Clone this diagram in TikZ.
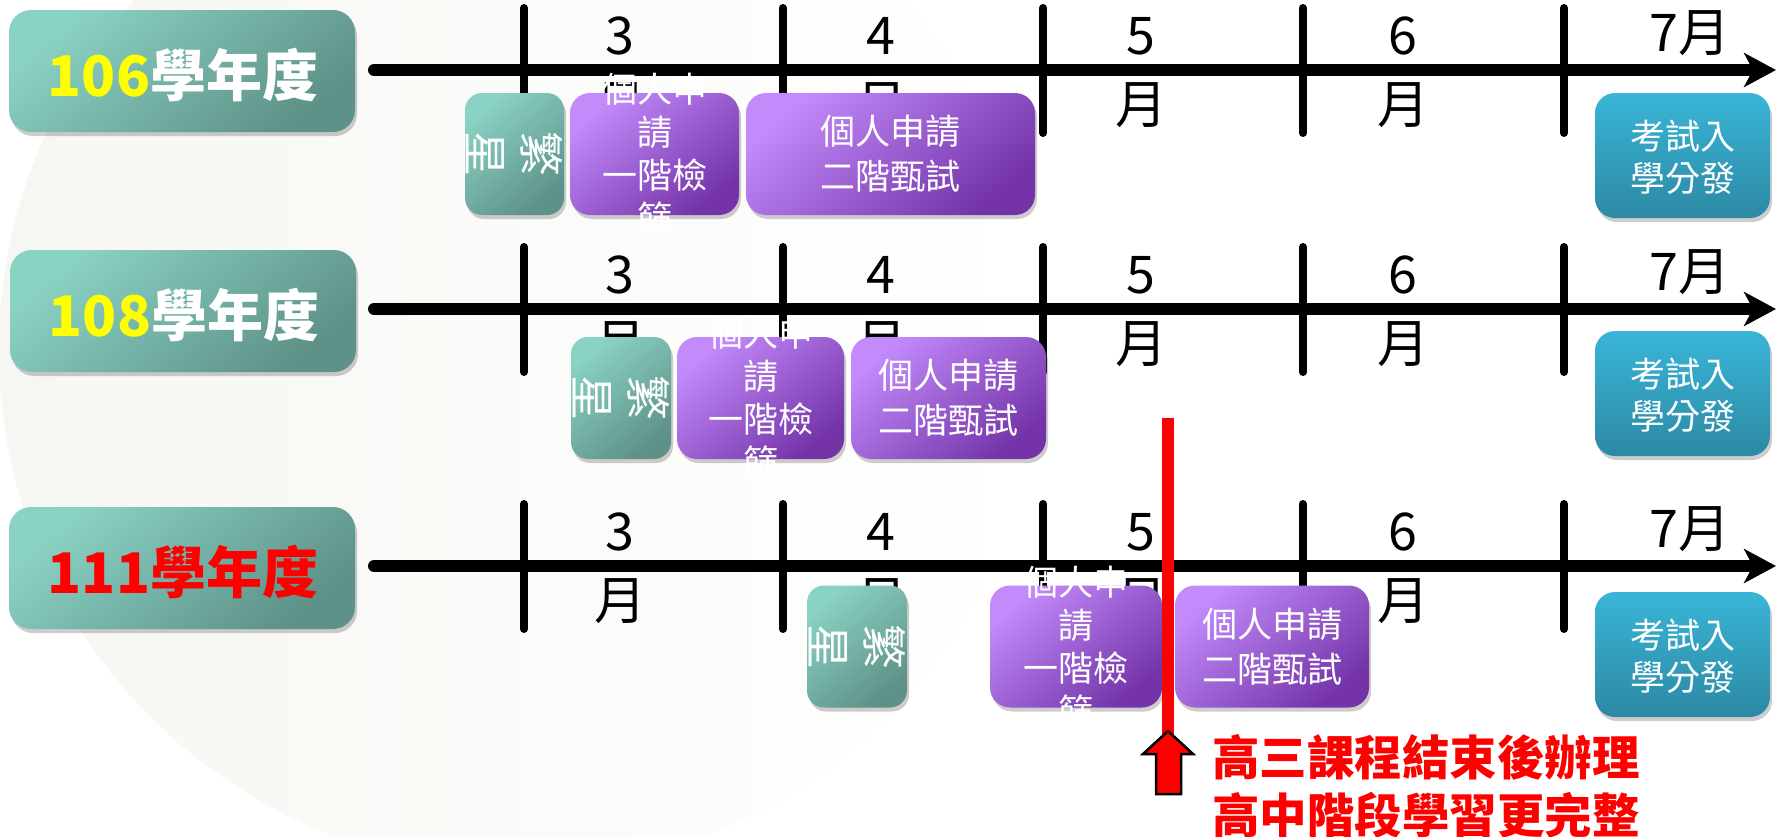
\documentclass[tikz,border=0pt]{standalone}
\usepackage{fontspec}
\setmainfont{Noto Sans CJK TC}
\usetikzlibrary{arrows.meta,shadows}
\definecolor{tealL}{HTML}{8AD2C4}
\definecolor{tealD}{HTML}{5E9188}
\definecolor{purL}{HTML}{C28AFB}
\definecolor{purD}{HTML}{7434A8}
\definecolor{bluT}{HTML}{3AB5D7}
\definecolor{bluB}{HTML}{2C89A4}
\definecolor{bgdisc}{HTML}{F6F6F2}
\definecolor{ylw}{HTML}{FFFF00}
\definecolor{rd}{HTML}{FF0000}
\tikzset{
  shad/.style={drop shadow={shadow xshift=2pt,shadow yshift=-4pt,opacity=.28,fill=black!70}},
  yearbox/.style={shad,rounded corners=22pt,top color=tealL,bottom color=tealD,shading angle=40,
    inner sep=0pt,minimum width=346pt,minimum height=122pt},
  yeartxt/.style={font=\bfseries\fontsize{56}{60}\selectfont,text=white,inner sep=0pt},
  starbox/.style={shad,rounded corners=17pt,top color=tealL,bottom color=tealD,shading angle=40,
    inner sep=0pt,minimum height=122pt},
  purbox/.style={shad,rounded corners=20pt,top color=purL,bottom color=purD,shading angle=40,
    inner sep=0pt,minimum height=122pt},
  blubox/.style={shad,rounded corners=20pt,top color=bluT,bottom color=bluB,
    inner sep=0pt,minimum width=175pt,minimum height=125pt},
  boxtxt/.style={text=white,align=center,inner sep=0pt,font=\fontsize{35}{43}\selectfont},
  axisline/.style={line width=12pt,line cap=round,-{Stealth[length=32pt,width=34pt,inset=9pt]}},
  tickline/.style={line width=8pt,line cap=round},
  monthtxt/.style={inner sep=0pt,font=\fontsize{52}{60}\selectfont},
  redline/.style={line width=12pt,rd},
  redtxt/.style={text=rd,align=left,inner sep=0pt,font=\bfseries\fontsize{47.5}{58}\selectfont},
}
\begin{document}
\begin{tikzpicture}[x=1pt,y=-1pt]
\useasboundingbox (0,0) rectangle (1777,836);
\begin{scope}
\clip (0,0) rectangle (1777,836);
\shade[left color=bgdisc,middle color=bgdisc,right color=white] (519,350) circle[radius=520pt];
\end{scope}

% year label boxes
\node[yearbox] (y1) at (182,71) {};
\node[yeartxt] (y1t) at (183,75) {\textcolor{ylw}{106}學年度};
\node[yearbox] (y2) at (183,311) {};
\node[yeartxt] (y2t) at (184,315) {\textcolor{ylw}{108}學年度};
\node[yearbox] (y3) at (182,568) {};
\node[yeartxt,text=rd] (y3t) at (183,572) {111學年度};

% axes, ticks, month labels
\foreach \r/\ay in {1/70,2/309,3/566}{
  \coordinate (a\r s) at (374,\ay);
  \coordinate (a\r e) at (1776,\ay);
  \draw[axisline] (a\r s) -- (a\r e);
  \foreach \i/\x in {1/524,2/783,3/1043,4/1303,5/1564}{
    \coordinate (t\r\i a) at (\x,\ay-62);
    \coordinate (t\r\i b) at (\x,\ay+63);
    \draw[tickline] (t\r\i a) -- (t\r\i b);
  }
  \foreach \i/\x/\m in {1/620/3,2/881/4,3/1141/5,4/1403/6}{
    \node[monthtxt] (md\r\i) at (\x,\ay-34) {\m};
    \node[monthtxt] (mm\r\i) at (\x,\ay+35) {月};
  }
  \node[monthtxt] (m7\r) at (1690,\ay-37) {7月};
}

% row 1 boxes
\node[starbox,minimum width=99pt] (f1) at (514.5,154) {};
\node[purbox,minimum width=169pt] (o1) at (654.5,154) {};
\node[purbox,minimum width=289pt] (s1) at (890.5,154) {};
\node[blubox] (k1) at (1682.5,155.5) {};
% row 2 boxes
\node[starbox,minimum width=100pt] (f2) at (621,398) {};
\node[purbox,minimum width=167pt] (o2) at (760.5,398) {};
\node[purbox,minimum width=195pt] (s2) at (948.5,398) {};
\node[blubox] (k2) at (1682.5,393.5) {};
% row 3 boxes
\node[starbox,minimum width=100pt] (f3) at (857,646.5) {};
\node[purbox,minimum width=172pt] (o3) at (1076,646.5) {};
\node[purbox,minimum width=194pt] (s3) at (1272,646.5) {};
\node[blubox] (k3) at (1682.5,654.5) {};

% box texts
\foreach \r in {1,2,3}{
  \node[boxtxt,rotate=-90,font=\fontsize{45}{56}\selectfont] (f\r t) at (f\r) {繁\\星};
  \node[boxtxt] (o\r t) at (o\r) {個人申\\請\\一階檢\\篩};
  \node[boxtxt,font=\fontsize{35}{45}\selectfont] (s\r t) at (s\r) {個人申請\\二階甄試};
  \node[boxtxt,font=\fontsize{35}{42}\selectfont] (k\r t) at ([yshift=-2pt]k\r) {考試入\\學分發};
}

% red marker
\coordinate (rl1) at (1168,418);
\coordinate (rl2) at (1168,736);
\draw[redline] (rl1) -- (rl2);
\fill[rd,draw=black,line width=2.5pt,line join=miter]
  (1168,731) -- (1193,754) -- (1181,754) -- (1181,794) -- (1156,794) -- (1156,754) -- (1143,754) -- cycle;
\node[redtxt,anchor=north west] (rt) at (1212,734) {高三課程結束後辦理\\高中階段學習更完整};
\end{tikzpicture}
\end{document}
